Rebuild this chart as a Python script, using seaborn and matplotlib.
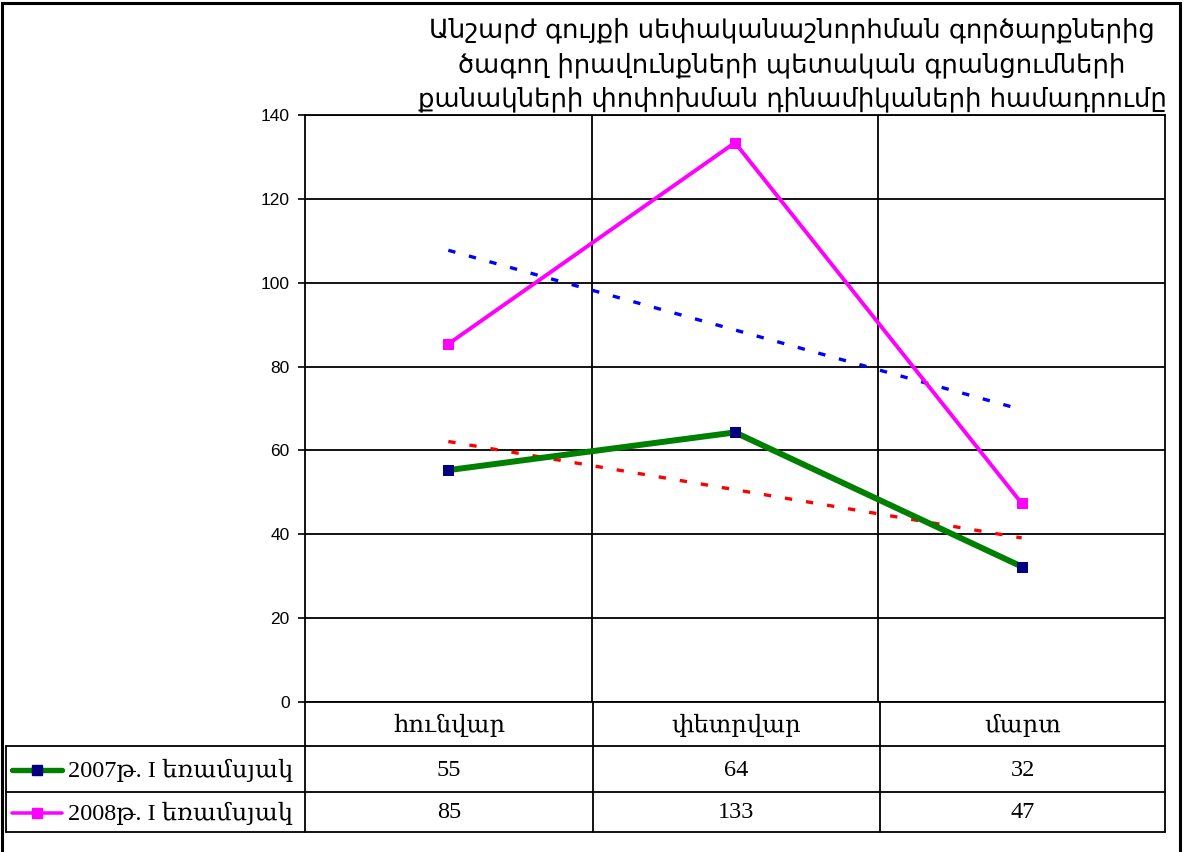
import numpy as np
import pandas as pd
import matplotlib
matplotlib.use("Agg")
import matplotlib.pyplot as plt
from matplotlib.lines import Line2D
from matplotlib.patches import Rectangle
import seaborn as sns

# ==========================
# Data
# ==========================

months = ["հունվար", "փետրվար", "մարտ"]
series_names = ["2007թ. I եռամսյակ", "2008թ. I եռամսյակ"]
values_2007 = [55.3, 64.3, 32.3]
values_2008 = [85.4, 133.4, 47.4]
y_ticks = [0, 20, 40, 60, 80, 100, 120, 140]

title = ("Անշարժ գույքի սեփականաշնորհման գործարքներից\n"
         "ծագող իրավունքների պետական գրանցումների\n"
         "քանակների փոփոխման դինամիկաների համադրումը")

df = pd.DataFrame({
    "month": months * 2,
    "pos": list(range(len(months))) * 2,
    "value": values_2007 + values_2008,
    "series": [series_names[0]] * 3 + [series_names[1]] * 3,
})

# ==========================
# Figure
# ==========================

sns.set_style("white")
plt.rcParams["font.family"] = ["Liberation Sans", "DejaVu Sans"]
plt.rcParams["text.color"] = "black"
plt.rcParams["ytick.color"] = "black"

W, H = 1184, 852
fig = plt.figure(figsize=(W / 100, H / 100), dpi=100)


def fx(x):
    return x / W


def fy(y):
    return 1 - y / H


ax = fig.add_axes([fx(305), fy(702), fx(1165) - fx(305), fy(115) - fy(702)])

styles = {
    series_names[0]: dict(color="#008000", lw=4.3, mfc="#000080", mec="#000080"),
    series_names[1]: dict(color="#FF00FF", lw=2.8, mfc="#FF00FF", mec="#FF00FF"),
}

for name in series_names:
    sub = df[df["series"] == name]
    st = styles[name]
    sns.lineplot(
        data=sub, x="pos", y="value", ax=ax,
        color=st["color"], linewidth=st["lw"],
        marker="s", markersize=6.5,
        markerfacecolor=st["mfc"], markeredgecolor=st["mec"],
        legend=False, zorder=4
    )

# linear trend lines
trend_colors = ["#FF0000", "#0000FF"]
pos = np.arange(len(months))
for vals, c in zip([values_2007, values_2008], trend_colors):
    k, b = np.polyfit(pos, vals, 1)
    ax.plot(pos, k * pos + b, color=c, lw=2.4, dashes=(2.2, 4.2), zorder=3)

ax.set_xlim(-0.5, 2.5)
ax.set_ylim(0, 140)
ax.set_yticks(y_ticks)
ax.set_xticks([])
ax.set_xlabel("")
ax.set_ylabel("")
ax.tick_params(axis="y", direction="out", length=5, width=1.2,
               labelsize=12.5, pad=6, left=True, labelcolor="black")
for yv in y_ticks:
    ax.axhline(yv, color="black", lw=1.3, zorder=1)
for xv in [0.5, 1.5]:
    ax.axvline(xv, color="black", lw=1.3, zorder=1)
for side in ["left", "right", "top", "bottom"]:
    ax.spines[side].set_visible(True)
    ax.spines[side].set_color("black")
    ax.spines[side].set_linewidth(1.3)

# ==========================
# Title
# ==========================

fig.text(fx(792), fy(65), title, ha="center", va="center", color="black",
         fontsize=18.6, family=["DejaVu Sans"], linespacing=1.42)

# ==========================
# Data table
# ==========================

col_edges = [305, 593, 880, 1165]
row_edges = [746, 792, 832]
lw_t = 1.3

def fline(x0, y0, x1, y1, **kw):
    fig.add_artist(Line2D([fx(x0), fx(x1)], [fy(y0), fy(y1)],
                          transform=fig.transFigure, color="black", lw=kw.get("lw", lw_t)))

for x in col_edges:
    fline(x, 702, x, 832)
for y in row_edges:
    fline(6, y, 1165, y)
fline(6, 746, 6, 832)

table_font = ["Liberation Serif", "DejaVu Serif"]
for i, m in enumerate(months):
    cx = (col_edges[i] + col_edges[i + 1]) / 2
    fig.text(fx(cx), fy(725), m, ha="center", va="center",
             fontsize=17.5, family=table_font)

rows = [values_2007, values_2008]
for r, (name, vals) in enumerate(zip(series_names, rows)):
    cy = (row_edges[r] + row_edges[r + 1]) / 2 + 1
    st = styles[name]
    fig.add_artist(Line2D([fx(12), fx(62)], [fy(cy), fy(cy)],
                          transform=fig.transFigure, color=st["color"],
                          lw=st["lw"] * 0.9))
    fig.add_artist(Line2D([fx(37)], [fy(cy)], transform=fig.transFigure,
                          marker="s", markersize=6.5, mfc=st["mfc"],
                          mec=st["mec"], lw=0))
    fig.text(fx(68), fy(cy), name, ha="left", va="center",
             fontsize=17.5, family=table_font)
    for i, v in enumerate(vals):
        cx = (col_edges[i] + col_edges[i + 1]) / 2
        fig.text(fx(cx), fy(cy), f"{v:.0f}", ha="center", va="center",
                 fontsize=17.5, family=table_font)

# outer frame
fig.add_artist(Rectangle((fx(2), fy(900)), fx(1180) - fx(2), fy(3) - fy(900),
                         transform=fig.transFigure, fill=False,
                         edgecolor="black", lw=2.2, clip_on=False))

fig.savefig("out.png", dpi=100)
plt.close(fig)
